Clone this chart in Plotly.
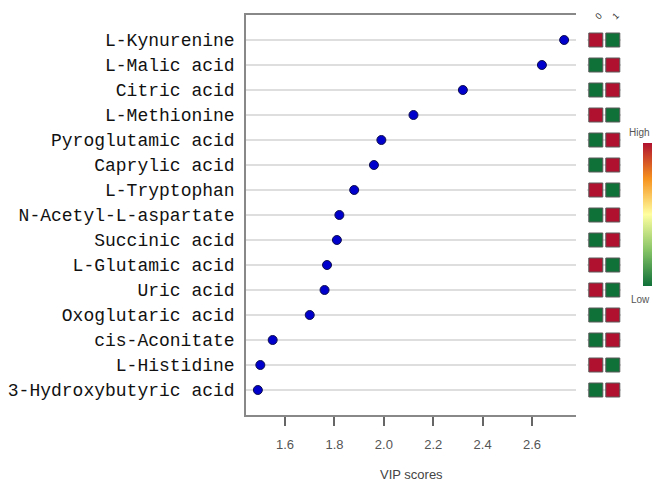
import plotly.graph_objects as go

metabolites = ["L-Kynurenine", "L-Malic acid", "Citric acid", "L-Methionine",
               "Pyroglutamic acid", "Caprylic acid", "L-Tryptophan",
               "N-Acetyl-L-aspartate", "Succinic acid", "L-Glutamic acid",
               "Uric acid", "Oxoglutaric acid", "cis-Aconitate", "L-Histidine",
               "3-Hydroxybutyric acid"]
vip_scores = [2.73, 2.64, 2.32, 2.12, 1.99, 1.96, 1.88, 1.82, 1.81, 1.77,
              1.76, 1.70, 1.55, 1.50, 1.49]
# relative abundance (1 = high, 0 = low) in groups 0 and 1
group0_level = [1, 0, 0, 1, 0, 0, 1, 0, 0, 1, 1, 0, 0, 1, 0]
group1_level = [0, 1, 1, 0, 1, 1, 0, 1, 1, 0, 0, 1, 1, 0, 1]
groups = ["0", "1"]
x_ticks = [1.6, 1.8, 2.0, 2.2, 2.4, 2.6]

colorscale = [[0.0, "#0f7038"], [0.25, "#86c466"], [0.5, "#ffffa0"],
              [0.75, "#f6921e"], [1.0, "#b0112f"]]

# the page body adds an 8px offset; work in figure coordinates
OFF = 8
FIG_W, FIG_H = 660 - 2 * OFF, 491 - 2 * OFF
PLOT_L, PLOT_R = 246 - OFF, FIG_W
PLOT_T, PLOT_B = 15 - OFF, 415 - OFF
W = PLOT_R - PLOT_L
H = PLOT_B - PLOT_T


def px(x):
    return (x - OFF - PLOT_L) / W


def py(y):
    return (PLOT_B - (y - OFF)) / H


fig = go.Figure()
fig.add_trace(go.Scatter(
    x=vip_scores, y=metabolites, mode="markers",
    marker=dict(size=9, color="#0000cc", line=dict(color="#101050", width=1)),
    xaxis="x", yaxis="y", showlegend=False, hoverinfo="x+y"))

hx, hy, hc = [], [], []
for i, m in enumerate(metabolites):
    for g, lv in zip(groups, (group0_level[i], group1_level[i])):
        hx.append(g)
        hy.append(m)
        hc.append(lv)

fig.add_trace(go.Scatter(
    x=hx, y=hy, mode="markers", xaxis="x2", yaxis="y",
    marker=dict(symbol="square", size=14, color=hc, cmin=0, cmax=1,
                colorscale=colorscale,
                line=dict(color="#5a5a5a", width=1),
                showscale=True,
                colorbar=dict(x=px(643), xanchor="left", xpad=0,
                              y=py((143 + 286) / 2), yanchor="middle", ypad=0,
                              len=143, lenmode="pixels",
                              thickness=9, outlinewidth=0,
                              showticklabels=False, ticks="")),
    showlegend=False, hoverinfo="skip"))

fig.update_layout(
    width=FIG_W, height=FIG_H,
    margin=dict(l=PLOT_L, r=FIG_W - PLOT_R, t=PLOT_T, b=FIG_H - PLOT_B,
                autoexpand=False),
    paper_bgcolor="white", plot_bgcolor="white",
    xaxis=dict(domain=[0, px(576)], range=[1.442, 2.778],
               tickvals=x_ticks, ticktext=[f"{v:.1f}" for v in x_ticks],
               ticks="outside", ticklen=9, tickwidth=1.5, tickcolor="#666",
               ticklabelstandoff=8,
               tickfont=dict(family="Liberation Sans, Arial", size=13, color="#555"),
               showgrid=False, zeroline=False, automargin=False,
               showline=True, linecolor="#888", linewidth=1.5, mirror=True),
    xaxis2=dict(domain=[px(587.3), px(621.3)], range=[-0.5, 1.5],
                type="category", categoryorder="array", categoryarray=groups,
                side="top", anchor="y", tickangle=-45, ticks="",
                automargin=False, ticklabelstandoff=-9,
                tickfont=dict(family="Liberation Sans, Arial", size=9, color="#333"),
                showgrid=False, zeroline=False, showline=False),
    yaxis=dict(type="category", categoryorder="array",
               categoryarray=metabolites[::-1], range=[-1, 15],
               showgrid=True, gridcolor="#dedede", gridwidth=2,
               ticks="", ticklabelstandoff=6, automargin=False,
               tickfont=dict(family="Liberation Mono, Courier New, monospace",
                             size=18, color="#111"),
               zeroline=False, showline=True, linecolor="#888", linewidth=1.5,
               mirror=False),
    annotations=[
        dict(text="VIP scores", x=px(576) / 2 + px(246) / 2, y=py(474),
             xref="paper", yref="paper",
             xanchor="center", yanchor="middle", showarrow=False,
             font=dict(family="Liberation Sans, Arial", size=13, color="#444")),
        dict(text="High", x=px(652), y=py(132), xref="paper", yref="paper",
             xanchor="right", yanchor="middle", showarrow=False,
             font=dict(family="Liberation Sans, Arial", size=10, color="#555")),
        dict(text="Low", x=px(652), y=py(299), xref="paper", yref="paper",
             xanchor="right", yanchor="middle", showarrow=False,
             font=dict(family="Liberation Sans, Arial", size=10, color="#555")),
    ],
)

fig.write_html("out.html")
